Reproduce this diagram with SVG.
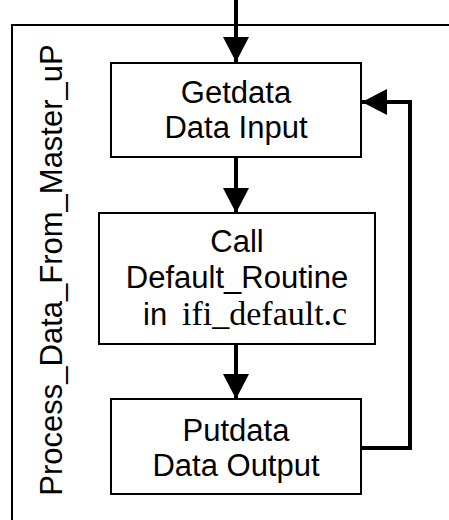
<svg xmlns="http://www.w3.org/2000/svg" width="449" height="520" viewBox="0 0 449 520">
<defs>
<style>
.box{fill:#fff;stroke:#000;stroke-width:2}
.t{font-family:"Liberation Sans",Arial,sans-serif;font-size:31px;fill:#000;text-anchor:middle}
.tm{font-family:"Liberation Serif","Times New Roman",serif;font-size:34px;fill:#000}
.c{fill:none;stroke:#000;stroke-width:4}
.frame{fill:none;stroke:#000;stroke-width:2}
</style>
<marker id="ah" markerUnits="userSpaceOnUse" markerWidth="26" markerHeight="26" refX="25" refY="13" orient="auto" viewBox="0 0 26 26">
<path d="M0,0 L25,13 L0,26 Z" fill="#000"/>
</marker>
</defs>
<g id="frame">
<path class="frame" d="M12,530 L12,25 L460,25"/>
<text class="t" transform="translate(62,270) rotate(-90)">Process_Data_From_Master_uP</text>
</g>
<g id="connectors">
<path class="c" d="M236,0 L236,62" marker-end="url(#ah)"/>
<path class="c" d="M236,157 L236,213" marker-end="url(#ah)"/>
<path class="c" d="M236,344 L236,399" marker-end="url(#ah)"/>
<path class="c" d="M361,448 L410,448 L410,102 L362,102" marker-end="url(#ah)"/>
</g>
<g id="getdata">
<rect class="box" x="111" y="63" width="250" height="94"/>
<text class="t" x="236" y="103">Getdata</text>
<text class="t" x="236" y="138">Data Input</text>
</g>
<g id="call">
<rect class="box" x="99" y="213" width="276" height="131"/>
<text class="t" x="237" y="252">Call</text>
<text class="t" x="237" y="288">Default_Routine</text>
<text y="325"><tspan class="t" x="143" style="text-anchor:start">in</tspan><tspan class="tm" x="182">ifi_default.c</tspan></text>
</g>
<g id="putdata">
<rect class="box" x="111" y="399" width="250" height="95"/>
<text class="t" x="236" y="441">Putdata</text>
<text class="t" x="236" y="476">Data Output</text>
</g>
</svg>
